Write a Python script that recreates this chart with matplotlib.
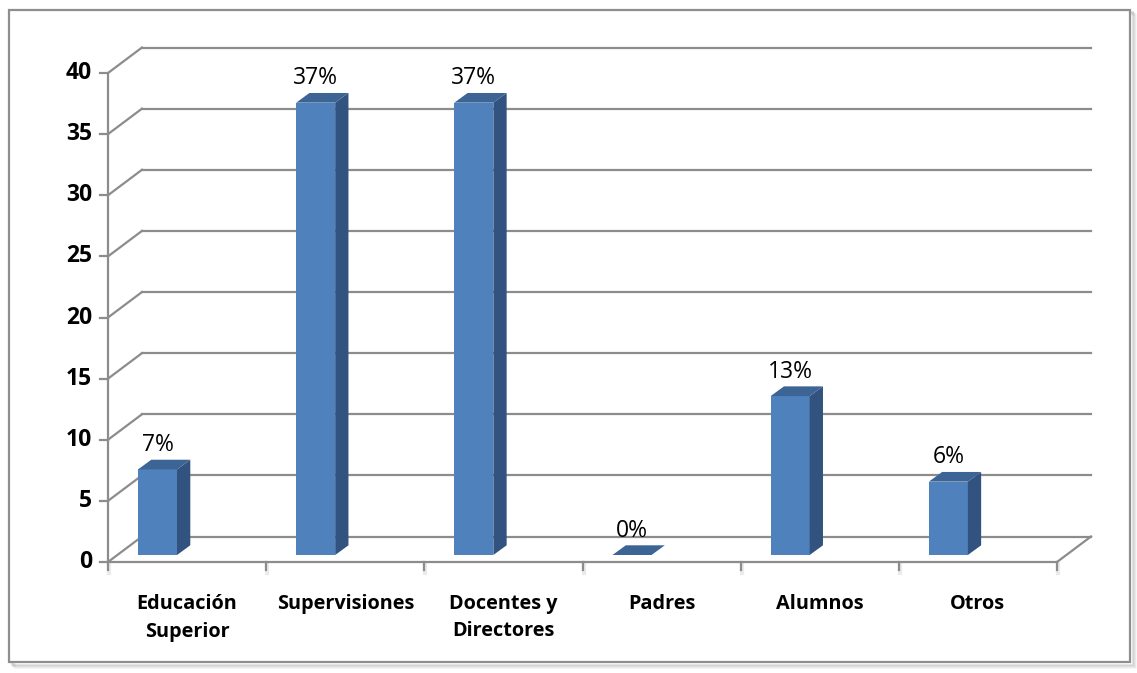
import matplotlib
matplotlib.use('Agg')
import matplotlib.pyplot as plt
from matplotlib.patches import Polygon, Rectangle

# data
categories = ['Educación\nSuperior', 'Supervisiones', 'Docentes y\nDirectores',
              'Padres', 'Alumnos', 'Otros']
values = [7, 37, 37, 0, 13, 6]
labels = ['7%', '37%', '37%', '0%', '13%', '6%']
yticks = [0, 5, 10, 15, 20, 25, 30, 35, 40]

W, H = 1137, 673
PX = 158.17          # pixels per category
PY = 12.225          # pixels per unit of value
X0, Y0 = 108, 562    # pixel position of the front origin

# 3d look (in data units)
DX, DY = 34 / PX, 25.5 / PY        # wall depth
SX, SY = 9 / PX, 7 / PY            # bars sit a bit inside the floor
BDX, BDY = 13.3 / PX, 9.7 / PY     # bar depth
BW = 39 / PX
BOFF = 49.5 / PX                   # front centre of bar inside its category

FRONT = '#4F81BD'
SIDE = '#325380'
TOP = '#3C6494'
GRID = '#8C8C8C'

plt.rcParams['font.family'] = ['Open Sans', 'DejaVu Sans']

fig = plt.figure(figsize=(W / 100, H / 100), dpi=100)
ax = fig.add_axes([0, 0, 1, 1])
ax.set_zorder(5)
ax.set_xlim(-X0 / PX, (W - X0) / PX)
ax.set_ylim((Y0 - H) / PY, Y0 / PY)
ax.axis('off')

# outer frame with a soft shadow
for k, a in enumerate([0.10, 0.07, 0.05, 0.03]):
    fig.patches.append(Rectangle(((10 + k + 2) / W, 1 - (663 + k + 2) / H),
                                 (1121) / W, (653) / H, transform=fig.transFigure,
                                 fill=False, edgecolor='black', alpha=a, lw=1.5, zorder=0))
fig.patches.append(Rectangle((9 / W, 1 - 662 / H), 1121 / W, 652 / H,
                             transform=fig.transFigure, facecolor='white',
                             edgecolor='#8E8E8E', lw=1.6, zorder=1))

# back wall gridlines + left wall diagonals
n = len(categories)
for v in yticks:
    ax.plot([DX, n + DX], [v + DY, v + DY], color=GRID, lw=1.6, zorder=2)
    ax.plot([0, DX], [v, v + DY], color=GRID, lw=1.6, zorder=2)
    ax.plot([-8 / PX, 0], [v, v], color=GRID, lw=1.6, zorder=2)
    ax.text(-16 / PX, v, str(v), ha='right', va='center', fontsize=16.5,
            fontweight='bold', color='black')

# front axis and floor
ax.plot([0, 0], [0, yticks[-1]], color=GRID, lw=1.6, zorder=2)
ax.plot([0, n], [0, 0], color=GRID, lw=1.6, zorder=2)
ax.plot([n, n + DX], [0, DY], color=GRID, lw=1.6, zorder=2)
for i in range(n + 1):
    ax.plot([i, i], [0, -8 / PY], color=GRID, lw=1.6, zorder=2)
    ax.plot([i + 1 / PX, i + 1 / PX], [-2 / PY, -11 / PY], color='#DDDDDD', lw=3,
            alpha=0.6, zorder=1)

# bars
xs = [i + BOFF for i in range(n)]
ax.bar(xs, values, width=BW, bottom=SY, color=FRONT, edgecolor='none', zorder=3)
for x, v, lab in zip(xs, values, labels):
    l, r = x - BW / 2, x + BW / 2
    top = v + SY
    if v > 0:
        ax.add_patch(Polygon([(r, SY), (r + BDX, SY + BDY), (r + BDX, top + BDY), (r, top)],
                             closed=True, facecolor=SIDE, edgecolor='none', zorder=3))
    ax.add_patch(Polygon([(l, top), (l + BDX, top + BDY), (r + BDX, top + BDY), (r, top)],
                         closed=True, facecolor=TOP, edgecolor='none', zorder=3))
    ax.text(x, top + 1.5, lab, ha='center', va='baseline', fontsize=16.5, color='black',
            zorder=4)

# category labels
for i, c in enumerate(categories):
    ax.text(i + 0.5, (Y0 - 594) / PY, c, ha='center', va='top', fontsize=14.3,
            fontweight='bold', linespacing=1.5, color='black')

fig.savefig('out.png', dpi=100)
